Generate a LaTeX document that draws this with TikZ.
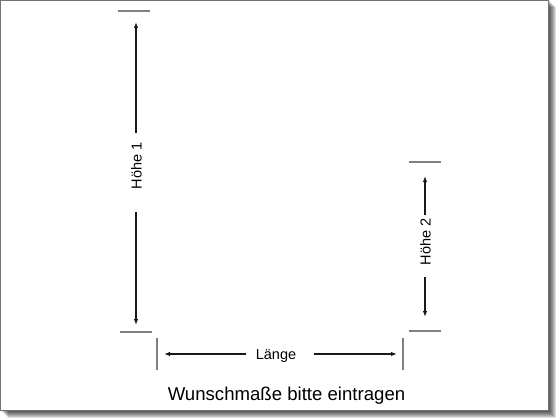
\documentclass[tikz,border=0pt]{standalone}
\usepackage{fontspec}
\setmainfont{Liberation Sans}
\usetikzlibrary{arrows.meta}
\begin{document}
\begin{tikzpicture}[x=1pt,y=-1pt,
  dim/.style={line width=1.3pt,draw=black!90,-{Latex[length=6pt,width=4.5pt]}},
  tick/.style={line width=1.2pt,draw=black!50},
  lab/.style={font=\fontsize{14.5}{14.5}\selectfont,inner sep=0pt,anchor=base},
  vlab/.style={lab,rotate=90}]
\useasboundingbox (0,0) rectangle (560,420);
\fill[white] (0,0) rectangle (560,420);
% shadow
\foreach \i in {1,...,7}{
  \fill[black,opacity=0.13] (0.5+\i,0.5+\i) rectangle (548.5+\i,410.5+\i);
}
\fill[white,draw=black!55,line width=1pt] (0.5,0.5) rectangle (548.5,410.5);
% coordinates
\coordinate (h1t) at (136,22);
\coordinate (h1a) at (136,133);
\coordinate (h1b) at (136,212);
\coordinate (h1d) at (136,325);
\coordinate (h2t) at (425,176);
\coordinate (h2a) at (425,215);
\coordinate (h2b) at (425,277);
\coordinate (h2d) at (425,317);
\coordinate (la) at (164,354);
\coordinate (lb) at (246,354);
\coordinate (lc) at (314,354);
\coordinate (ld) at (397,354);
% ticks
\coordinate (t1a) at (118,11); \coordinate (t1b) at (150,11);
\coordinate (t2a) at (120,332); \coordinate (t2b) at (152,332);
\coordinate (t3a) at (157,338); \coordinate (t3b) at (157,370);
\coordinate (t4a) at (403,338); \coordinate (t4b) at (403,370);
\coordinate (t5a) at (409,162); \coordinate (t5b) at (441,162);
\coordinate (t6a) at (409,331); \coordinate (t6b) at (441,331);
\foreach \a/\b in {t1a/t1b,t2a/t2b,t3a/t3b,t4a/t4b,t5a/t5b,t6a/t6b}
  \draw[tick] (\a) -- (\b);
% arrows
\draw[dim] (h1a) -- (h1t);
\draw[dim] (h1b) -- (h1d);
\draw[dim] (h2a) -- (h2t);
\draw[dim] (h2b) -- (h2d);
\draw[dim] (lb) -- (la);
\draw[dim] (lc) -- (ld);
% labels
\node[vlab] (hoehe1) at (141.5,166) {Höhe 1};
\node[vlab] (hoehe2) at (430.5,242) {Höhe 2};
\node[lab] (laenge) at (276,359) {Länge};
\node[lab,font=\fontsize{18.6}{18.6}\selectfont] (caption) at (286.5,400) {Wunschmaße bitte eintragen};
\end{tikzpicture}
\end{document}
